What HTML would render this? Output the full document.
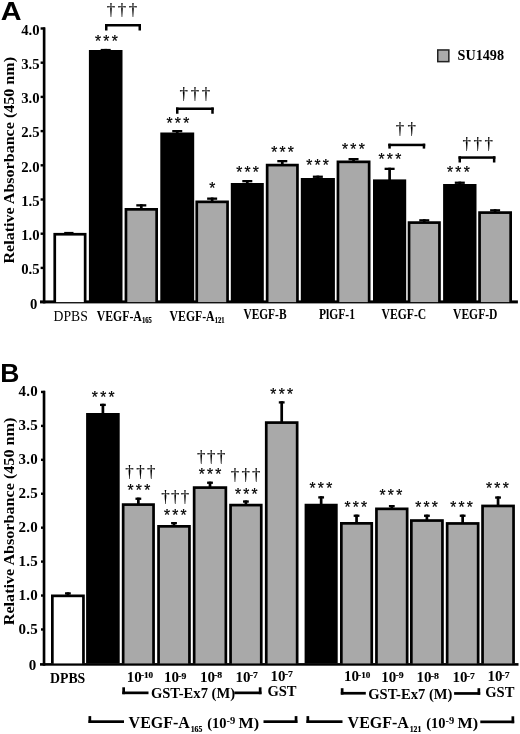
<!DOCTYPE html>
<html><head><meta charset="utf-8"><title>Figure</title>
<style>
html,body{margin:0;padding:0;background:#fff;}
svg{display:block;font-family:"Liberation Serif", serif;fill:#000;}
</style></head><body>
<svg width="520" height="734" viewBox="0 0 520 734" shape-rendering="geometricPrecision">
<rect width="520" height="734" fill="#fff"/>
<text x="0.80" y="19.50" font-size="26.5" font-weight="bold" text-anchor="start" font-family='"Liberation Sans", sans-serif' textLength="20.8" lengthAdjust="spacingAndGlyphs">A</text>
<rect x="42.80" y="27.40" width="2.65" height="276.00" fill="#000"/>
<rect x="40.00" y="300.40" width="477.90" height="3.00" fill="#000"/>
<text x="37.40" y="309.30" font-size="14.7" font-weight="bold" text-anchor="end" >0</text>
<rect x="40.60" y="266.70" width="4.40" height="2.40" fill="#000"/>
<text x="39.50" y="274.10" font-size="14.7" font-weight="bold" text-anchor="end" >0.5</text>
<rect x="40.60" y="232.50" width="4.40" height="2.40" fill="#000"/>
<text x="39.50" y="239.90" font-size="14.7" font-weight="bold" text-anchor="end" >1.0</text>
<rect x="40.60" y="198.30" width="4.40" height="2.40" fill="#000"/>
<text x="39.50" y="205.70" font-size="14.7" font-weight="bold" text-anchor="end" >1.5</text>
<rect x="40.60" y="164.10" width="4.40" height="2.40" fill="#000"/>
<text x="39.50" y="171.50" font-size="14.7" font-weight="bold" text-anchor="end" >2.0</text>
<rect x="40.60" y="129.90" width="4.40" height="2.40" fill="#000"/>
<text x="39.50" y="137.30" font-size="14.7" font-weight="bold" text-anchor="end" >2.5</text>
<rect x="40.60" y="95.70" width="4.40" height="2.40" fill="#000"/>
<text x="39.50" y="103.10" font-size="14.7" font-weight="bold" text-anchor="end" >3.0</text>
<rect x="40.60" y="61.50" width="4.40" height="2.40" fill="#000"/>
<text x="39.50" y="68.90" font-size="14.7" font-weight="bold" text-anchor="end" >3.5</text>
<rect x="40.60" y="27.30" width="4.40" height="2.40" fill="#000"/>
<text x="39.50" y="34.70" font-size="14.7" font-weight="bold" text-anchor="end" >4.0</text>
<text transform="translate(14.3,263.5) rotate(-90)" font-size="14.6" font-weight="bold" textLength="206.5" lengthAdjust="spacingAndGlyphs">Relative Absorbance (450 nm)</text>
<rect x="53.40" y="232.90" width="33.10" height="69.20" fill="#000"/>
<rect x="56.10" y="235.60" width="27.70" height="66.50" fill="#fff"/>
<rect x="100.70" y="48.90" width="10.00" height="2.30" fill="#000"/>
<rect x="104.35" y="48.90" width="2.70" height="2.10" fill="#000"/>
<rect x="88.90" y="50.00" width="33.60" height="252.10" fill="#000"/>
<rect x="136.30" y="204.20" width="10.00" height="2.30" fill="#000"/>
<rect x="139.95" y="204.20" width="2.70" height="4.80" fill="#000"/>
<rect x="124.60" y="208.00" width="33.40" height="94.10" fill="#000"/>
<rect x="127.30" y="210.70" width="28.00" height="91.40" fill="#a9a9a9"/>
<rect x="172.25" y="130.00" width="10.00" height="2.30" fill="#000"/>
<rect x="175.90" y="130.00" width="2.70" height="3.50" fill="#000"/>
<rect x="160.30" y="132.50" width="33.90" height="169.60" fill="#000"/>
<rect x="207.15" y="197.50" width="10.00" height="2.30" fill="#000"/>
<rect x="210.80" y="197.50" width="2.70" height="4.00" fill="#000"/>
<rect x="195.40" y="200.50" width="33.50" height="101.60" fill="#000"/>
<rect x="198.10" y="203.20" width="28.10" height="98.90" fill="#a9a9a9"/>
<rect x="242.30" y="180.00" width="10.00" height="2.30" fill="#000"/>
<rect x="245.95" y="180.00" width="2.70" height="4.00" fill="#000"/>
<rect x="230.80" y="183.00" width="33.00" height="119.10" fill="#000"/>
<rect x="277.30" y="160.00" width="10.00" height="2.30" fill="#000"/>
<rect x="280.95" y="160.00" width="2.70" height="4.75" fill="#000"/>
<rect x="265.80" y="163.75" width="33.00" height="138.35" fill="#000"/>
<rect x="268.50" y="166.45" width="27.60" height="135.65" fill="#a9a9a9"/>
<rect x="312.85" y="175.60" width="10.00" height="2.30" fill="#000"/>
<rect x="316.50" y="175.60" width="2.70" height="3.40" fill="#000"/>
<rect x="300.80" y="178.00" width="34.10" height="124.10" fill="#000"/>
<rect x="348.55" y="158.00" width="10.00" height="2.30" fill="#000"/>
<rect x="352.20" y="158.00" width="2.70" height="3.50" fill="#000"/>
<rect x="336.60" y="160.50" width="33.90" height="141.60" fill="#000"/>
<rect x="339.30" y="163.20" width="28.50" height="138.90" fill="#a9a9a9"/>
<rect x="384.60" y="167.70" width="10.00" height="2.30" fill="#000"/>
<rect x="388.25" y="167.70" width="2.70" height="12.70" fill="#000"/>
<rect x="373.00" y="179.40" width="33.20" height="122.70" fill="#000"/>
<rect x="419.25" y="219.20" width="10.00" height="2.30" fill="#000"/>
<rect x="422.90" y="219.20" width="2.70" height="3.05" fill="#000"/>
<rect x="407.70" y="221.25" width="33.10" height="80.85" fill="#000"/>
<rect x="410.40" y="223.95" width="27.70" height="78.15" fill="#a9a9a9"/>
<rect x="454.80" y="181.60" width="10.00" height="2.30" fill="#000"/>
<rect x="458.45" y="181.60" width="2.70" height="3.40" fill="#000"/>
<rect x="443.10" y="184.00" width="33.40" height="118.10" fill="#000"/>
<rect x="490.10" y="209.20" width="10.00" height="2.30" fill="#000"/>
<rect x="493.75" y="209.20" width="2.70" height="3.05" fill="#000"/>
<rect x="478.20" y="211.25" width="33.80" height="90.85" fill="#000"/>
<rect x="480.90" y="213.95" width="28.40" height="88.15" fill="#a9a9a9"/>
<rect x="64.20" y="231.90" width="9.30" height="1.30" fill="#000"/>
<text x="98.10" y="46.86" font-size="15.6" text-anchor="middle" font-family='"Liberation Sans", sans-serif' stroke="#000" stroke-width="0.25">*</text>
<text x="106.40" y="46.86" font-size="15.6" text-anchor="middle" font-family='"Liberation Sans", sans-serif' stroke="#000" stroke-width="0.25">*</text>
<text x="114.70" y="46.86" font-size="15.6" text-anchor="middle" font-family='"Liberation Sans", sans-serif' stroke="#000" stroke-width="0.25">*</text>
<text x="169.60" y="129.36" font-size="15.6" text-anchor="middle" font-family='"Liberation Sans", sans-serif' stroke="#000" stroke-width="0.25">*</text>
<text x="177.90" y="129.36" font-size="15.6" text-anchor="middle" font-family='"Liberation Sans", sans-serif' stroke="#000" stroke-width="0.25">*</text>
<text x="186.20" y="129.36" font-size="15.6" text-anchor="middle" font-family='"Liberation Sans", sans-serif' stroke="#000" stroke-width="0.25">*</text>
<text x="212.20" y="194.36" font-size="15.6" text-anchor="middle" font-family='"Liberation Sans", sans-serif' stroke="#000" stroke-width="0.25">*</text>
<text x="239.30" y="177.61" font-size="15.6" text-anchor="middle" font-family='"Liberation Sans", sans-serif' stroke="#000" stroke-width="0.25">*</text>
<text x="247.60" y="177.61" font-size="15.6" text-anchor="middle" font-family='"Liberation Sans", sans-serif' stroke="#000" stroke-width="0.25">*</text>
<text x="255.90" y="177.61" font-size="15.6" text-anchor="middle" font-family='"Liberation Sans", sans-serif' stroke="#000" stroke-width="0.25">*</text>
<text x="274.30" y="157.61" font-size="15.6" text-anchor="middle" font-family='"Liberation Sans", sans-serif' stroke="#000" stroke-width="0.25">*</text>
<text x="282.60" y="157.61" font-size="15.6" text-anchor="middle" font-family='"Liberation Sans", sans-serif' stroke="#000" stroke-width="0.25">*</text>
<text x="290.90" y="157.61" font-size="15.6" text-anchor="middle" font-family='"Liberation Sans", sans-serif' stroke="#000" stroke-width="0.25">*</text>
<text x="309.30" y="171.36" font-size="15.6" text-anchor="middle" font-family='"Liberation Sans", sans-serif' stroke="#000" stroke-width="0.25">*</text>
<text x="317.60" y="171.36" font-size="15.6" text-anchor="middle" font-family='"Liberation Sans", sans-serif' stroke="#000" stroke-width="0.25">*</text>
<text x="325.90" y="171.36" font-size="15.6" text-anchor="middle" font-family='"Liberation Sans", sans-serif' stroke="#000" stroke-width="0.25">*</text>
<text x="345.10" y="155.11" font-size="15.6" text-anchor="middle" font-family='"Liberation Sans", sans-serif' stroke="#000" stroke-width="0.25">*</text>
<text x="353.40" y="155.11" font-size="15.6" text-anchor="middle" font-family='"Liberation Sans", sans-serif' stroke="#000" stroke-width="0.25">*</text>
<text x="361.70" y="155.11" font-size="15.6" text-anchor="middle" font-family='"Liberation Sans", sans-serif' stroke="#000" stroke-width="0.25">*</text>
<text x="381.60" y="164.56" font-size="15.6" text-anchor="middle" font-family='"Liberation Sans", sans-serif' stroke="#000" stroke-width="0.25">*</text>
<text x="389.90" y="164.56" font-size="15.6" text-anchor="middle" font-family='"Liberation Sans", sans-serif' stroke="#000" stroke-width="0.25">*</text>
<text x="398.20" y="164.56" font-size="15.6" text-anchor="middle" font-family='"Liberation Sans", sans-serif' stroke="#000" stroke-width="0.25">*</text>
<text x="450.10" y="178.36" font-size="15.6" text-anchor="middle" font-family='"Liberation Sans", sans-serif' stroke="#000" stroke-width="0.25">*</text>
<text x="458.40" y="178.36" font-size="15.6" text-anchor="middle" font-family='"Liberation Sans", sans-serif' stroke="#000" stroke-width="0.25">*</text>
<text x="466.70" y="178.36" font-size="15.6" text-anchor="middle" font-family='"Liberation Sans", sans-serif' stroke="#000" stroke-width="0.25">*</text>
<text transform="translate(111.00,14.84) scale(0.98,1)" font-size="17.2" text-anchor="middle" stroke="#000" stroke-width="0.15">†</text>
<text transform="translate(122.00,14.84) scale(0.98,1)" font-size="17.2" text-anchor="middle" stroke="#000" stroke-width="0.15">†</text>
<text transform="translate(133.00,14.84) scale(0.98,1)" font-size="17.2" text-anchor="middle" stroke="#000" stroke-width="0.15">†</text>
<rect x="105.00" y="24.00" width="36.00" height="2.50" fill="#000"/>
<rect x="105.00" y="24.00" width="2.50" height="6.50" fill="#000"/>
<rect x="138.50" y="24.00" width="2.50" height="6.50" fill="#000"/>
<text transform="translate(183.75,98.84) scale(0.98,1)" font-size="17.2" text-anchor="middle" stroke="#000" stroke-width="0.15">†</text>
<text transform="translate(195.00,98.84) scale(0.98,1)" font-size="17.2" text-anchor="middle" stroke="#000" stroke-width="0.15">†</text>
<text transform="translate(206.00,98.84) scale(0.98,1)" font-size="17.2" text-anchor="middle" stroke="#000" stroke-width="0.15">†</text>
<rect x="176.00" y="107.50" width="37.75" height="2.50" fill="#000"/>
<rect x="176.00" y="107.50" width="2.50" height="6.25" fill="#000"/>
<rect x="211.25" y="107.50" width="2.50" height="6.25" fill="#000"/>
<text transform="translate(400.00,133.84) scale(0.98,1)" font-size="17.2" text-anchor="middle" stroke="#000" stroke-width="0.15">†</text>
<text transform="translate(411.70,133.84) scale(0.98,1)" font-size="17.2" text-anchor="middle" stroke="#000" stroke-width="0.15">†</text>
<rect x="388.30" y="143.70" width="36.90" height="2.50" fill="#000"/>
<rect x="388.30" y="143.70" width="2.50" height="4.90" fill="#000"/>
<rect x="422.70" y="143.70" width="2.50" height="4.90" fill="#000"/>
<text transform="translate(466.80,149.14) scale(0.98,1)" font-size="17.2" text-anchor="middle" stroke="#000" stroke-width="0.15">†</text>
<text transform="translate(477.80,149.14) scale(0.98,1)" font-size="17.2" text-anchor="middle" stroke="#000" stroke-width="0.15">†</text>
<text transform="translate(488.60,149.14) scale(0.98,1)" font-size="17.2" text-anchor="middle" stroke="#000" stroke-width="0.15">†</text>
<rect x="458.50" y="156.30" width="36.90" height="2.50" fill="#000"/>
<rect x="458.50" y="156.30" width="2.50" height="6.20" fill="#000"/>
<rect x="492.90" y="156.30" width="2.50" height="6.20" fill="#000"/>
<rect x="437.00" y="49.20" width="12.60" height="13.20" fill="#222"/>
<rect x="438.50" y="50.70" width="9.60" height="10.20" fill="#aaa"/>
<text x="457.50" y="60.00" font-size="14.2" font-weight="bold" text-anchor="start" >SU1498</text>
<text x="53.50" y="320.90" font-size="13.7" font-weight="normal" text-anchor="start" >DPBS</text>
<text x="96.80" y="320.50" font-size="14.3" font-weight="bold" text-anchor="start" textLength="45.0" lengthAdjust="spacingAndGlyphs">VEGF-A</text>
<text x="141.90" y="323.20" font-size="8" font-weight="bold" text-anchor="start" textLength="9.8" lengthAdjust="spacingAndGlyphs" stroke="#000" stroke-width="0.2">165</text>
<text x="169.60" y="320.60" font-size="14.3" font-weight="bold" text-anchor="start" textLength="45.0" lengthAdjust="spacingAndGlyphs">VEGF-A</text>
<text x="214.70" y="323.30" font-size="8" font-weight="bold" text-anchor="start" textLength="9.8" lengthAdjust="spacingAndGlyphs" stroke="#000" stroke-width="0.2">121</text>
<text x="243.40" y="319.10" font-size="14.3" font-weight="bold" text-anchor="start" textLength="43.1" lengthAdjust="spacingAndGlyphs">VEGF-B</text>
<text x="319.00" y="318.80" font-size="14.3" font-weight="bold" text-anchor="start" textLength="36.0" lengthAdjust="spacingAndGlyphs">PlGF-1</text>
<text x="381.50" y="319.20" font-size="14.3" font-weight="bold" text-anchor="start" textLength="44.7" lengthAdjust="spacingAndGlyphs">VEGF-C</text>
<text x="453.00" y="319.20" font-size="14.3" font-weight="bold" text-anchor="start" textLength="44.5" lengthAdjust="spacingAndGlyphs">VEGF-D</text>
<text x="0.30" y="382.10" font-size="26.5" font-weight="bold" text-anchor="start" font-family='"Liberation Sans", sans-serif'>B</text>
<rect x="42.70" y="390.80" width="2.65" height="274.90" fill="#000"/>
<rect x="40.00" y="663.10" width="478.50" height="2.60" fill="#000"/>
<text x="36.50" y="670.00" font-size="15" font-weight="bold" text-anchor="end" letter-spacing="0.35">0</text>
<rect x="41.00" y="628.27" width="4.00" height="2.40" fill="#000"/>
<text x="38.20" y="633.87" font-size="15" font-weight="bold" text-anchor="end" letter-spacing="0.35">0.5</text>
<rect x="41.00" y="594.34" width="4.00" height="2.40" fill="#000"/>
<text x="38.20" y="599.94" font-size="15" font-weight="bold" text-anchor="end" letter-spacing="0.35">1.0</text>
<rect x="41.00" y="560.41" width="4.00" height="2.40" fill="#000"/>
<text x="38.20" y="566.01" font-size="15" font-weight="bold" text-anchor="end" letter-spacing="0.35">1.5</text>
<rect x="41.00" y="526.48" width="4.00" height="2.40" fill="#000"/>
<text x="38.20" y="532.08" font-size="15" font-weight="bold" text-anchor="end" letter-spacing="0.35">2.0</text>
<rect x="41.00" y="492.55" width="4.00" height="2.40" fill="#000"/>
<text x="38.20" y="498.15" font-size="15" font-weight="bold" text-anchor="end" letter-spacing="0.35">2.5</text>
<rect x="41.00" y="458.62" width="4.00" height="2.40" fill="#000"/>
<text x="38.20" y="464.22" font-size="15" font-weight="bold" text-anchor="end" letter-spacing="0.35">3.0</text>
<rect x="41.00" y="424.69" width="4.00" height="2.40" fill="#000"/>
<text x="38.20" y="430.29" font-size="15" font-weight="bold" text-anchor="end" letter-spacing="0.35">3.5</text>
<rect x="41.00" y="390.76" width="4.00" height="2.40" fill="#000"/>
<text x="38.20" y="396.36" font-size="15" font-weight="bold" text-anchor="end" letter-spacing="0.35">4.0</text>
<text transform="translate(14.3,625.2) rotate(-90)" font-size="14.6" font-weight="bold" textLength="207.5" lengthAdjust="spacingAndGlyphs">Relative Absorbance (450 nm)</text>
<rect x="65.00" y="592.30" width="5.80" height="2.30" fill="#000"/>
<rect x="66.55" y="592.30" width="2.70" height="3.20" fill="#000"/>
<rect x="51.00" y="594.50" width="33.80" height="68.90" fill="#000"/>
<rect x="53.70" y="597.20" width="28.40" height="66.20" fill="#fff"/>
<rect x="100.00" y="403.75" width="5.80" height="2.30" fill="#000"/>
<rect x="101.55" y="403.75" width="2.70" height="10.25" fill="#000"/>
<rect x="86.10" y="413.00" width="33.60" height="250.40" fill="#000"/>
<rect x="135.45" y="497.60" width="5.80" height="2.30" fill="#000"/>
<rect x="137.00" y="497.60" width="2.70" height="6.65" fill="#000"/>
<rect x="121.80" y="503.25" width="33.10" height="160.15" fill="#000"/>
<rect x="124.50" y="505.95" width="27.70" height="157.45" fill="#a9a9a9"/>
<rect x="171.10" y="522.00" width="5.80" height="2.30" fill="#000"/>
<rect x="172.65" y="522.00" width="2.70" height="4.00" fill="#000"/>
<rect x="157.20" y="525.00" width="33.60" height="138.40" fill="#000"/>
<rect x="159.90" y="527.70" width="28.20" height="135.70" fill="#a9a9a9"/>
<rect x="207.10" y="481.60" width="5.80" height="2.30" fill="#000"/>
<rect x="208.65" y="481.60" width="2.70" height="5.65" fill="#000"/>
<rect x="192.80" y="486.25" width="34.40" height="177.15" fill="#000"/>
<rect x="195.50" y="488.95" width="29.00" height="174.45" fill="#a9a9a9"/>
<rect x="243.00" y="500.40" width="5.80" height="2.30" fill="#000"/>
<rect x="244.55" y="500.40" width="2.70" height="4.35" fill="#000"/>
<rect x="229.20" y="503.75" width="33.40" height="159.65" fill="#000"/>
<rect x="231.90" y="506.45" width="28.00" height="156.95" fill="#a9a9a9"/>
<rect x="278.80" y="401.25" width="5.80" height="2.30" fill="#000"/>
<rect x="280.35" y="401.25" width="2.70" height="21.00" fill="#000"/>
<rect x="264.90" y="421.25" width="33.60" height="242.15" fill="#000"/>
<rect x="267.60" y="423.95" width="28.20" height="239.45" fill="#a9a9a9"/>
<rect x="318.25" y="496.25" width="5.80" height="2.30" fill="#000"/>
<rect x="319.80" y="496.25" width="2.70" height="8.50" fill="#000"/>
<rect x="304.60" y="503.75" width="33.10" height="159.65" fill="#000"/>
<rect x="353.65" y="514.60" width="5.80" height="2.30" fill="#000"/>
<rect x="355.20" y="514.60" width="2.70" height="8.40" fill="#000"/>
<rect x="340.00" y="522.00" width="33.10" height="141.40" fill="#000"/>
<rect x="342.70" y="524.70" width="27.70" height="138.70" fill="#a9a9a9"/>
<rect x="388.90" y="505.00" width="5.80" height="2.30" fill="#000"/>
<rect x="390.45" y="505.00" width="2.70" height="3.50" fill="#000"/>
<rect x="375.10" y="507.50" width="33.40" height="155.90" fill="#000"/>
<rect x="377.80" y="510.20" width="28.00" height="153.20" fill="#a9a9a9"/>
<rect x="424.00" y="514.60" width="5.80" height="2.30" fill="#000"/>
<rect x="425.55" y="514.60" width="2.70" height="5.60" fill="#000"/>
<rect x="410.00" y="519.20" width="33.80" height="144.20" fill="#000"/>
<rect x="412.70" y="521.90" width="28.40" height="141.50" fill="#a9a9a9"/>
<rect x="459.75" y="514.60" width="5.80" height="2.30" fill="#000"/>
<rect x="461.30" y="514.60" width="2.70" height="8.50" fill="#000"/>
<rect x="445.80" y="522.10" width="33.70" height="141.30" fill="#000"/>
<rect x="448.50" y="524.80" width="28.30" height="138.60" fill="#a9a9a9"/>
<rect x="495.15" y="496.40" width="5.80" height="2.30" fill="#000"/>
<rect x="496.70" y="496.40" width="2.70" height="9.20" fill="#000"/>
<rect x="481.20" y="504.60" width="33.70" height="158.80" fill="#000"/>
<rect x="483.90" y="507.30" width="28.30" height="156.10" fill="#a9a9a9"/>
<text x="94.90" y="403.36" font-size="15.6" text-anchor="middle" font-family='"Liberation Sans", sans-serif' stroke="#000" stroke-width="0.25">*</text>
<text x="103.20" y="403.36" font-size="15.6" text-anchor="middle" font-family='"Liberation Sans", sans-serif' stroke="#000" stroke-width="0.25">*</text>
<text x="111.50" y="403.36" font-size="15.6" text-anchor="middle" font-family='"Liberation Sans", sans-serif' stroke="#000" stroke-width="0.25">*</text>
<text transform="translate(129.50,477.09) scale(0.98,1)" font-size="17.2" text-anchor="middle" stroke="#000" stroke-width="0.15">†</text>
<text transform="translate(140.50,477.09) scale(0.98,1)" font-size="17.2" text-anchor="middle" stroke="#000" stroke-width="0.15">†</text>
<text transform="translate(151.25,477.09) scale(0.98,1)" font-size="17.2" text-anchor="middle" stroke="#000" stroke-width="0.15">†</text>
<text x="130.60" y="495.86" font-size="15.6" text-anchor="middle" font-family='"Liberation Sans", sans-serif' stroke="#000" stroke-width="0.25">*</text>
<text x="138.90" y="495.86" font-size="15.6" text-anchor="middle" font-family='"Liberation Sans", sans-serif' stroke="#000" stroke-width="0.25">*</text>
<text x="147.20" y="495.86" font-size="15.6" text-anchor="middle" font-family='"Liberation Sans", sans-serif' stroke="#000" stroke-width="0.25">*</text>
<text transform="translate(165.50,502.09) scale(0.98,1)" font-size="17.2" text-anchor="middle" stroke="#000" stroke-width="0.15">†</text>
<text transform="translate(175.20,502.09) scale(0.98,1)" font-size="17.2" text-anchor="middle" stroke="#000" stroke-width="0.15">†</text>
<text transform="translate(185.00,502.09) scale(0.98,1)" font-size="17.2" text-anchor="middle" stroke="#000" stroke-width="0.15">†</text>
<text x="167.00" y="520.86" font-size="15.6" text-anchor="middle" font-family='"Liberation Sans", sans-serif' stroke="#000" stroke-width="0.25">*</text>
<text x="175.30" y="520.86" font-size="15.6" text-anchor="middle" font-family='"Liberation Sans", sans-serif' stroke="#000" stroke-width="0.25">*</text>
<text x="183.60" y="520.86" font-size="15.6" text-anchor="middle" font-family='"Liberation Sans", sans-serif' stroke="#000" stroke-width="0.25">*</text>
<text transform="translate(201.25,462.09) scale(0.98,1)" font-size="17.2" text-anchor="middle" stroke="#000" stroke-width="0.15">†</text>
<text transform="translate(211.25,462.09) scale(0.98,1)" font-size="17.2" text-anchor="middle" stroke="#000" stroke-width="0.15">†</text>
<text transform="translate(221.25,462.09) scale(0.98,1)" font-size="17.2" text-anchor="middle" stroke="#000" stroke-width="0.15">†</text>
<text x="201.80" y="480.11" font-size="15.6" text-anchor="middle" font-family='"Liberation Sans", sans-serif' stroke="#000" stroke-width="0.25">*</text>
<text x="210.10" y="480.11" font-size="15.6" text-anchor="middle" font-family='"Liberation Sans", sans-serif' stroke="#000" stroke-width="0.25">*</text>
<text x="218.40" y="480.11" font-size="15.6" text-anchor="middle" font-family='"Liberation Sans", sans-serif' stroke="#000" stroke-width="0.25">*</text>
<text transform="translate(235.00,479.84) scale(0.98,1)" font-size="17.2" text-anchor="middle" stroke="#000" stroke-width="0.15">†</text>
<text transform="translate(245.75,479.84) scale(0.98,1)" font-size="17.2" text-anchor="middle" stroke="#000" stroke-width="0.15">†</text>
<text transform="translate(256.25,479.84) scale(0.98,1)" font-size="17.2" text-anchor="middle" stroke="#000" stroke-width="0.15">†</text>
<text x="238.00" y="500.11" font-size="15.6" text-anchor="middle" font-family='"Liberation Sans", sans-serif' stroke="#000" stroke-width="0.25">*</text>
<text x="246.30" y="500.11" font-size="15.6" text-anchor="middle" font-family='"Liberation Sans", sans-serif' stroke="#000" stroke-width="0.25">*</text>
<text x="254.60" y="500.11" font-size="15.6" text-anchor="middle" font-family='"Liberation Sans", sans-serif' stroke="#000" stroke-width="0.25">*</text>
<text x="273.40" y="399.61" font-size="15.6" text-anchor="middle" font-family='"Liberation Sans", sans-serif' stroke="#000" stroke-width="0.25">*</text>
<text x="281.70" y="399.61" font-size="15.6" text-anchor="middle" font-family='"Liberation Sans", sans-serif' stroke="#000" stroke-width="0.25">*</text>
<text x="290.00" y="399.61" font-size="15.6" text-anchor="middle" font-family='"Liberation Sans", sans-serif' stroke="#000" stroke-width="0.25">*</text>
<text x="312.60" y="494.36" font-size="15.6" text-anchor="middle" font-family='"Liberation Sans", sans-serif' stroke="#000" stroke-width="0.25">*</text>
<text x="320.90" y="494.36" font-size="15.6" text-anchor="middle" font-family='"Liberation Sans", sans-serif' stroke="#000" stroke-width="0.25">*</text>
<text x="329.20" y="494.36" font-size="15.6" text-anchor="middle" font-family='"Liberation Sans", sans-serif' stroke="#000" stroke-width="0.25">*</text>
<text x="347.50" y="513.36" font-size="15.6" text-anchor="middle" font-family='"Liberation Sans", sans-serif' stroke="#000" stroke-width="0.25">*</text>
<text x="355.80" y="513.36" font-size="15.6" text-anchor="middle" font-family='"Liberation Sans", sans-serif' stroke="#000" stroke-width="0.25">*</text>
<text x="364.10" y="513.36" font-size="15.6" text-anchor="middle" font-family='"Liberation Sans", sans-serif' stroke="#000" stroke-width="0.25">*</text>
<text x="382.60" y="501.36" font-size="15.6" text-anchor="middle" font-family='"Liberation Sans", sans-serif' stroke="#000" stroke-width="0.25">*</text>
<text x="390.90" y="501.36" font-size="15.6" text-anchor="middle" font-family='"Liberation Sans", sans-serif' stroke="#000" stroke-width="0.25">*</text>
<text x="399.20" y="501.36" font-size="15.6" text-anchor="middle" font-family='"Liberation Sans", sans-serif' stroke="#000" stroke-width="0.25">*</text>
<text x="418.20" y="512.86" font-size="15.6" text-anchor="middle" font-family='"Liberation Sans", sans-serif' stroke="#000" stroke-width="0.25">*</text>
<text x="426.50" y="512.86" font-size="15.6" text-anchor="middle" font-family='"Liberation Sans", sans-serif' stroke="#000" stroke-width="0.25">*</text>
<text x="434.80" y="512.86" font-size="15.6" text-anchor="middle" font-family='"Liberation Sans", sans-serif' stroke="#000" stroke-width="0.25">*</text>
<text x="453.30" y="512.86" font-size="15.6" text-anchor="middle" font-family='"Liberation Sans", sans-serif' stroke="#000" stroke-width="0.25">*</text>
<text x="461.60" y="512.86" font-size="15.6" text-anchor="middle" font-family='"Liberation Sans", sans-serif' stroke="#000" stroke-width="0.25">*</text>
<text x="469.90" y="512.86" font-size="15.6" text-anchor="middle" font-family='"Liberation Sans", sans-serif' stroke="#000" stroke-width="0.25">*</text>
<text x="489.10" y="494.06" font-size="15.6" text-anchor="middle" font-family='"Liberation Sans", sans-serif' stroke="#000" stroke-width="0.25">*</text>
<text x="497.40" y="494.06" font-size="15.6" text-anchor="middle" font-family='"Liberation Sans", sans-serif' stroke="#000" stroke-width="0.25">*</text>
<text x="505.70" y="494.06" font-size="15.6" text-anchor="middle" font-family='"Liberation Sans", sans-serif' stroke="#000" stroke-width="0.25">*</text>
<text x="126.80" y="681.60" font-size="15" font-weight="bold" text-anchor="start" >10</text>
<text x="141.00" y="678.10" font-size="9" font-weight="bold" text-anchor="start" textLength="12.2" lengthAdjust="spacingAndGlyphs" stroke="#000" stroke-width="0.2">-10</text>
<text x="164.00" y="682.20" font-size="15" font-weight="bold" text-anchor="start" >10</text>
<text x="178.20" y="678.70" font-size="9" font-weight="bold" text-anchor="start" textLength="8.1" lengthAdjust="spacingAndGlyphs" stroke="#000" stroke-width="0.2">-9</text>
<text x="199.90" y="681.70" font-size="15" font-weight="bold" text-anchor="start" >10</text>
<text x="214.10" y="678.20" font-size="9" font-weight="bold" text-anchor="start" textLength="8.1" lengthAdjust="spacingAndGlyphs" stroke="#000" stroke-width="0.2">-8</text>
<text x="235.60" y="681.70" font-size="15" font-weight="bold" text-anchor="start" >10</text>
<text x="249.80" y="678.20" font-size="9" font-weight="bold" text-anchor="start" textLength="8.1" lengthAdjust="spacingAndGlyphs" stroke="#000" stroke-width="0.2">-7</text>
<text x="270.60" y="680.80" font-size="15" font-weight="bold" text-anchor="start" >10</text>
<text x="284.80" y="677.30" font-size="9" font-weight="bold" text-anchor="start" textLength="8.1" lengthAdjust="spacingAndGlyphs" stroke="#000" stroke-width="0.2">-7</text>
<text x="343.90" y="681.30" font-size="15" font-weight="bold" text-anchor="start" >10</text>
<text x="358.10" y="677.80" font-size="9" font-weight="bold" text-anchor="start" textLength="12.2" lengthAdjust="spacingAndGlyphs" stroke="#000" stroke-width="0.2">-10</text>
<text x="381.30" y="681.90" font-size="15" font-weight="bold" text-anchor="start" >10</text>
<text x="395.50" y="678.40" font-size="9" font-weight="bold" text-anchor="start" textLength="8.1" lengthAdjust="spacingAndGlyphs" stroke="#000" stroke-width="0.2">-9</text>
<text x="416.60" y="682.30" font-size="15" font-weight="bold" text-anchor="start" >10</text>
<text x="430.80" y="678.80" font-size="9" font-weight="bold" text-anchor="start" textLength="8.1" lengthAdjust="spacingAndGlyphs" stroke="#000" stroke-width="0.2">-8</text>
<text x="452.60" y="682.30" font-size="15" font-weight="bold" text-anchor="start" >10</text>
<text x="466.80" y="678.80" font-size="9" font-weight="bold" text-anchor="start" textLength="8.1" lengthAdjust="spacingAndGlyphs" stroke="#000" stroke-width="0.2">-7</text>
<text x="487.40" y="681.20" font-size="15" font-weight="bold" text-anchor="start" >10</text>
<text x="501.60" y="677.70" font-size="9" font-weight="bold" text-anchor="start" textLength="8.1" lengthAdjust="spacingAndGlyphs" stroke="#000" stroke-width="0.2">-7</text>
<text x="50.00" y="682.80" font-size="13.8" font-weight="bold" text-anchor="start" >DPBS</text>
<rect x="122.30" y="687.30" width="2.70" height="6.90" fill="#000"/>
<rect x="122.30" y="691.50" width="26.20" height="2.70" fill="#000"/>
<text x="150.90" y="697.70" font-size="14.6" font-weight="bold" text-anchor="start" >GST-Ex7 (M)</text>
<rect x="258.80" y="687.30" width="2.70" height="6.90" fill="#000"/>
<rect x="234.30" y="691.50" width="27.20" height="2.70" fill="#000"/>
<text x="267.40" y="695.50" font-size="14.6" font-weight="bold" text-anchor="start" >GST</text>
<rect x="340.80" y="688.20" width="2.70" height="6.40" fill="#000"/>
<rect x="340.80" y="691.90" width="25.00" height="2.70" fill="#000"/>
<text x="368.20" y="699.10" font-size="14.6" font-weight="bold" text-anchor="start" >GST-Ex7 (M)</text>
<rect x="477.50" y="688.20" width="2.70" height="6.60" fill="#000"/>
<rect x="454.10" y="692.10" width="26.10" height="2.70" fill="#000"/>
<text x="485.20" y="696.60" font-size="14.6" font-weight="bold" text-anchor="start" >GST</text>
<rect x="88.50" y="716.10" width="2.70" height="6.90" fill="#000"/>
<rect x="88.50" y="720.30" width="35.50" height="2.70" fill="#000"/>
<text x="128.60" y="728.10" font-size="16" font-weight="bold" text-anchor="start" >VEGF-A</text>
<text x="190.70" y="732.00" font-size="8.6" font-weight="bold" text-anchor="start" textLength="11.6" lengthAdjust="spacingAndGlyphs" stroke="#000" stroke-width="0.2">165</text>
<text x="207.20" y="728.10" font-size="15" font-weight="bold" text-anchor="start" textLength="19.3" lengthAdjust="spacingAndGlyphs">(10</text>
<text x="226.40" y="724.20" font-size="10.5" font-weight="bold" text-anchor="start" >-9</text>
<text x="238.60" y="728.10" font-size="15.5" font-weight="bold" text-anchor="start" textLength="20.6" lengthAdjust="spacingAndGlyphs">M)</text>
<rect x="294.70" y="716.10" width="2.70" height="6.90" fill="#000"/>
<rect x="263.50" y="720.30" width="33.90" height="2.70" fill="#000"/>
<rect x="306.50" y="716.10" width="2.70" height="6.90" fill="#000"/>
<rect x="306.50" y="720.30" width="36.00" height="2.70" fill="#000"/>
<text x="347.60" y="727.70" font-size="16" font-weight="bold" text-anchor="start" >VEGF-A</text>
<text x="409.70" y="731.60" font-size="8.6" font-weight="bold" text-anchor="start" textLength="11.6" lengthAdjust="spacingAndGlyphs" stroke="#000" stroke-width="0.2">121</text>
<text x="426.20" y="727.70" font-size="15" font-weight="bold" text-anchor="start" textLength="19.3" lengthAdjust="spacingAndGlyphs">(10</text>
<text x="445.40" y="723.80" font-size="10.5" font-weight="bold" text-anchor="start" >-9</text>
<text x="457.60" y="727.70" font-size="15.5" font-weight="bold" text-anchor="start" textLength="20.6" lengthAdjust="spacingAndGlyphs">M)</text>
<rect x="511.50" y="716.30" width="2.70" height="6.90" fill="#000"/>
<rect x="480.30" y="720.50" width="33.90" height="2.70" fill="#000"/>
</svg>
</body></html>
